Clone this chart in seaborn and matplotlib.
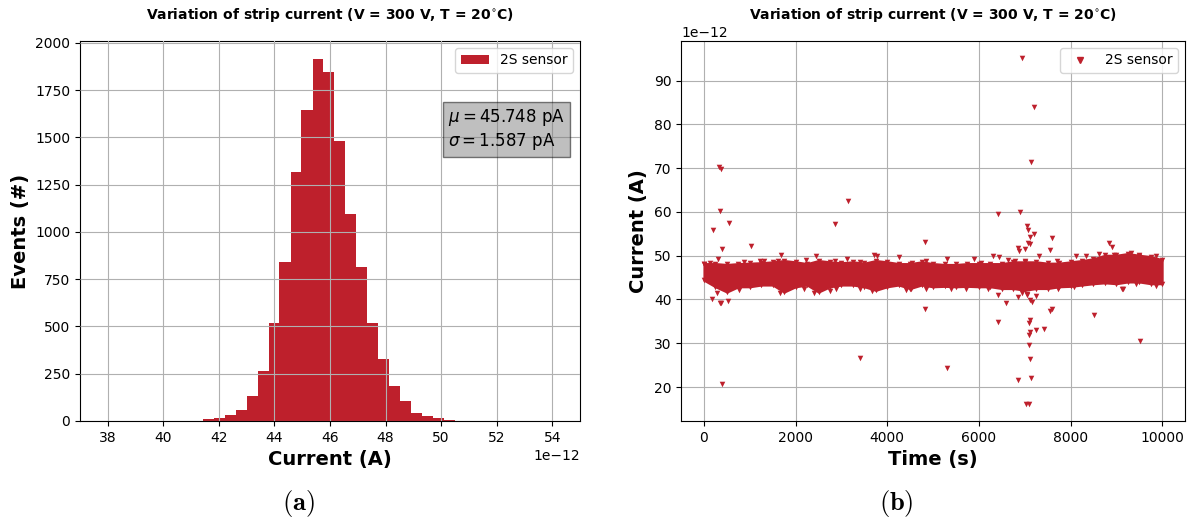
import numpy as np
import pandas as pd
import matplotlib
matplotlib.use("Agg")
import matplotlib.pyplot as plt
from matplotlib.patches import Patch
from matplotlib.lines import Line2D
import seaborn as sns

# ---------------- data ----------------
RED = "#BE202C"
SCALE = 1e-12  # values are given in pA

# (a) histogram of strip current
hist_edges_pA = [41.42, 41.81, 42.21, 42.60, 43.00, 43.39, 43.79, 44.18, 44.58,
                 44.97, 45.37, 45.76, 46.16, 46.55, 46.95, 47.34, 47.74, 48.13,
                 48.53, 48.92, 49.32, 49.71, 50.11, 50.50]
hist_counts = [10, 17, 33, 58, 134, 266, 516, 842, 1319, 1645, 1915, 1846,
               1484, 1096, 814, 521, 330, 186, 106, 42, 27, 16, 5]
mu_pA = 45.748
sigma_pA = 1.587

# (b) time series: dense band envelope
band_time = [0, 250, 500, 750, 1000, 1250, 1500, 1750, 2000, 2250, 2500, 2750,
             3000, 3250, 3500, 3750, 4000, 4250, 4500, 4750, 5000, 5250, 5500,
             5750, 6000, 6250, 6500, 6750, 7000, 7250, 7500, 7750, 8000, 8250,
             8500, 8750, 9000, 9250, 9500, 9750, 10000]
band_high_pA = [48.2, 48.2, 48.0, 48.2, 48.3, 48.4, 48.6, 48.9, 48.6, 48.2, 48.9,
                48.6, 48.4, 48.6, 48.3, 48.9, 48.6, 48.2, 48.2, 48.6, 48.2, 48.0,
                48.0, 48.2, 48.2, 48.2, 48.2, 48.6, 48.6, 48.6, 48.3, 48.3, 48.6,
                48.9, 49.3, 50.1, 50.1, 50.5, 50.1, 49.8, 49.1]
band_low_pA = [44.4, 42.9, 41.7, 42.9, 42.9, 43.3, 43.3, 41.7, 42.9, 43.3, 41.7,
               42.9, 43.3, 43.3, 42.9, 42.1, 42.9, 43.3, 42.5, 43.3, 42.9, 43.0,
               42.9, 43.0, 42.9, 42.9, 42.5, 42.5, 42.1, 42.5, 42.5, 42.9, 43.0,
               43.3, 43.6, 43.8, 43.6, 44.0, 44.0, 43.6, 43.6]

# points sitting just outside the band edges
edge_time = [7, 132, 864, 1216, 1311, 1619, 1692, 1875, 2227, 2440, 2864, 3121,
             3414, 3707, 3766, 4256, 4549, 4842, 5890, 6051, 6308, 6440, 6637,
             6784, 7004, 7700, 8125, 8344, 8615, 8945, 9311, 9495,
             286, 755, 1656, 2190, 2410, 2740, 2879, 3414, 3670, 4403, 4513,
             4842, 5392, 5722, 6198, 6952, 7040, 7736, 8066, 9128, 9421, 9861]
edge_pA = [48.2, 48.3, 48.6, 48.8, 48.9, 48.9, 50.1, 48.2, 49.1, 49.9, 48.8, 49.3,
           48.6, 50.1, 49.9, 49.7, 48.4, 48.7, 49.3, 48.4, 49.9, 49.6, 49.1,
           48.8, 48.8, 48.8, 49.9, 49.9, 50.3, 50.1, 50.6, 49.9,
           41.5, 42.1, 41.5, 42.4, 41.4, 42.0, 42.5, 42.5, 42.0, 42.1, 42.3,
           42.3, 42.5, 42.5, 42.5, 41.5, 41.2, 42.5, 42.9, 42.5, 43.6, 43.0]

# isolated outliers
outlier_time = [192, 323, 377, 346, 554, 385, 308, 185, 346, 377, 523, 400, 1032,
                2864, 3149, 3403, 4827, 4827, 5304, 5304, 6413, 6428, 6597, 6428,
                6890, 6844, 6951, 7036, 7098, 7136, 7198, 7052, 7083, 7113, 7083,
                7121, 7213, 6852, 6867, 6998, 7321, 7598, 7560, 7121, 7098, 7121,
                7090, 7244, 7413, 7098, 7113, 7129, 6844, 7052, 7121, 7159, 7252,
                7560, 7606, 8522, 8838, 8899, 9138, 9523, 9869]
outlier_pA = [55.8, 70.3, 69.9, 60.1, 57.5, 51.6, 49.3, 40.2, 39.3, 39.1, 39.6,
              20.6, 52.3, 57.3, 62.6, 26.7, 53.2, 37.9, 24.3, 49.3, 59.6, 34.8,
              39.1, 41.0, 59.9, 21.5, 95.1, 16.2, 16.2, 71.5, 84.0, 56.7, 55.8,
              54.2, 52.9, 52.6, 55.0, 51.7, 51.0, 51.6, 50.0, 54.0, 51.3, 35.3,
              34.7, 32.6, 31.8, 33.0, 33.3, 29.7, 26.4, 22.0, 40.6, 41.1, 39.8,
              39.5, 40.9, 37.4, 37.8, 36.4, 52.9, 52.0, 42.4, 30.6, 50.0]

TITLE = r"Variation of strip current (V = 300 V, T = 20$^{\circ}$C)"
LEGEND_LABEL = "2S sensor"

# ---------------- figure ----------------
plt.rcParams["mathtext.fontset"] = "dejavusans"
fig = plt.figure(figsize=(11.94, 5.21), dpi=100)
ax1 = fig.add_axes([0.067, 0.192, 0.4188, 0.7294])
ax2 = fig.add_axes([0.5704, 0.192, 0.4221, 0.7294])

edges = [e * SCALE for e in hist_edges_pA]
hist_df = pd.DataFrame({
    "current": [(a + b) / 2 for a, b in zip(edges[:-1], edges[1:])],
    "events": hist_counts,
})
sns.histplot(data=hist_df, x="current", weights="events", bins=edges, ax=ax1,
             color=RED, alpha=1.0, linewidth=0, stat="count")
ax1.set_xlim(37e-12, 55e-12)
ax1.set_xticks(np.arange(38, 55, 2) * SCALE)
ax1.set_yticks(np.arange(0, 2001, 250))
ax1.ticklabel_format(axis="x", style="sci", scilimits=(-12, -12))
ax1.grid(True, color="#b0b0b0", linewidth=0.8)
ax1.set_axisbelow(False)
ax1.set_xlabel("Current (A)", fontsize=14, fontweight="bold")
ax1.set_ylabel("Events (#)", fontsize=14, fontweight="bold")
ax1.set_title(TITLE, fontsize=10, fontweight="bold", pad=16)
ax1.legend(handles=[Patch(facecolor=RED, label=LEGEND_LABEL)], loc="upper right",
           fontsize=10)
ax1.text(0.736, 0.826, rf"$\mu = {mu_pA:.3f}$ pA" + "\n" + rf"$\sigma = {sigma_pA:.3f}$ pA",
         transform=ax1.transAxes, fontsize=12, va="top", ha="left",
         bbox=dict(boxstyle="square,pad=0.3", facecolor="gray", alpha=0.5,
                   edgecolor="black"))

bt = np.array(band_time)
bh = np.array(band_high_pA) * SCALE
bl = np.array(band_low_pA) * SCALE
ax2.fill_between(bt, bl, bh, color=RED, linewidth=1.5, edgecolor=RED)
sns.scatterplot(x=bt, y=bh, marker="v", s=16, color=RED, linewidth=0, ax=ax2)
sns.scatterplot(x=bt, y=bl, marker="v", s=16, color=RED, linewidth=0, ax=ax2)
sns.scatterplot(x=edge_time, y=np.array(edge_pA) * SCALE, marker="v", s=16,
                color=RED, linewidth=0, ax=ax2)
sns.scatterplot(x=outlier_time, y=np.array(outlier_pA) * SCALE, marker="v", s=16,
                color=RED, linewidth=0, ax=ax2)
ax2.set_yticks(np.arange(20, 91, 10) * SCALE)
ax2.set_xticks(np.arange(0, 10001, 2000))
ax2.ticklabel_format(axis="y", style="sci", scilimits=(-12, -12))
ax2.grid(True, color="#b0b0b0", linewidth=0.8)
ax2.set_axisbelow(True)
ax2.set_xlabel("Time (s)", fontsize=14, fontweight="bold")
ax2.set_ylabel("Current (A)", fontsize=14, fontweight="bold")
ax2.set_title(TITLE, fontsize=10, fontweight="bold", pad=16)
ax2.legend(handles=[Line2D([], [], marker="v", linestyle="none", color=RED,
                           markersize=4, label=LEGEND_LABEL)],
           loc="upper right", fontsize=10)

for ax in (ax1, ax2):
    ax.tick_params(labelsize=10)

fig.text(0.2496, 0.0345, r"$\mathbf{(a)}$", ha="center", va="center", fontsize=19,
         math_fontfamily="cm")
fig.text(0.7504, 0.0345, r"$\mathbf{(b)}$", ha="center", va="center", fontsize=19,
         math_fontfamily="cm")

fig.savefig("out.png", dpi=100)
